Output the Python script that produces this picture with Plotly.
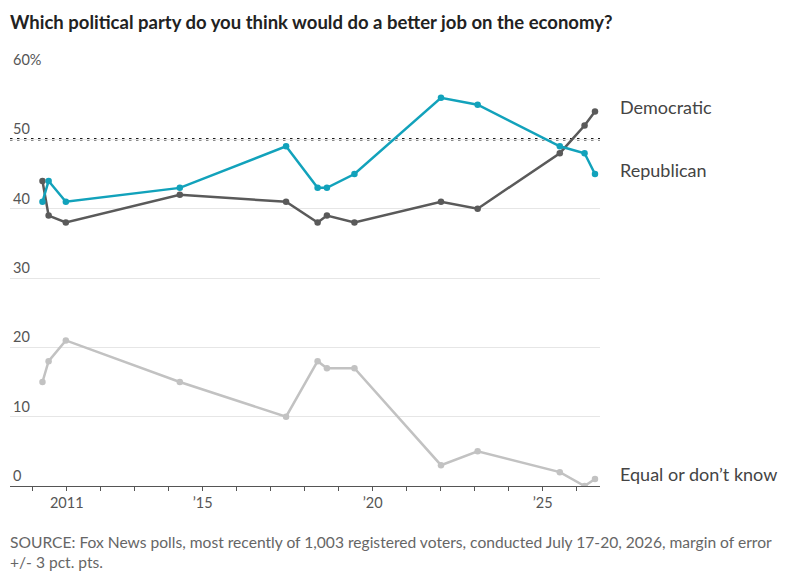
import plotly.graph_objects as go

# poll dates (approximate mid-field dates)
poll_dates = [
    "2010-04-15", "2010-06-20", "2010-12-22", "2014-04-30", "2017-06-15",
    "2018-05-20", "2018-08-28", "2019-06-20", "2022-01-05", "2023-02-03",
    "2025-07-05", "2026-03-28", "2026-07-18",
]
republican = [41, 44, 41, 43, 49, 43, 43, 45, 56, 55, 49, 48, 45]
democratic = [44, 39, 38, 42, 41, 38, 39, 38, 41, 40, 48, 52, 54]
equal_dk = [15, 18, 21, 15, 10, 18, 17, 17, 3, 5, 2, 0, 1]

y_ticks = [0, 10, 20, 30, 40, 50, 60]
y_ticktext = ["0", "10", "20", "30", "40", "50", "60%"]
x_ticks = ["2011-01-01", "2015-01-01", "2020-01-01", "2025-01-01"]
x_ticktext = ["2011", "\u201915", "\u201920", "\u201925"]

FONT = "Lato"
BLUE = "#12a2bb"
DARK = "#5a5a5a"
LIGHT = "#c2c2c2"

fig = go.Figure()

series = [
    ("Equal or don\u2019t know", equal_dk, LIGHT),
    ("Democratic", democratic, DARK),
    ("Republican", republican, BLUE),
]
for name, vals, color in series:
    fig.add_trace(go.Scatter(
        x=poll_dates, y=vals, name=name, mode="lines+markers",
        line=dict(color=color, width=2.5),
        marker=dict(color=color, size=6.5),
        hoverinfo="x+y",
    ))

# 50% reference line
fig.add_shape(
    type="line", xref="paper", x0=0, x1=1, yref="y", y0=50, y1=50,
    line=dict(color="#1a1a1a", width=2.5, dash="2.5px,4.5px"), layer="below",
)

# direct labels on the right (small nudge above the last value)
label_pos = [
    ("Democratic", democratic[-1], 0.7),
    ("Republican", republican[-1], 0.6),
    ("Equal or don\u2019t know", equal_dk[-1], 0.7),
]
for text, yv, dy in label_pos:
    fig.add_annotation(
        text=text, xref="paper", x=1, xanchor="left", xshift=18,
        yref="y", y=yv + dy, yanchor="middle", showarrow=False,
        font=dict(family=FONT, size=18, color="#444444"),
    )

fig.add_annotation(
    text="<b>Which political party do you think would do a better job on the economy?</b>",
    xref="paper", yref="paper", x=0, y=1, xanchor="left", yanchor="middle",
    xshift=-2, yshift=48, showarrow=False,
    font=dict(family=FONT, size=18.5, color="#222222"),
)
fig.add_annotation(
    text="SOURCE: Fox News polls, most recently of 1,003 registered voters, conducted July 17-20, 2026, margin of error<br>+/- 3 pct. pts.",
    xref="paper", yref="paper", x=0, y=0, xanchor="left", yanchor="top",
    xshift=-2, yshift=-45, showarrow=False, align="left",
    font=dict(family=FONT, size=15.6, color="#666666"),
)

# the page body adds an 8px offset, so margins are shifted to compensate
fig.update_layout(
    width=796, height=583,
    margin=dict(l=2, r=204, t=62, b=105),
    paper_bgcolor="white", plot_bgcolor="white",
    showlegend=False,
    font=dict(family=FONT, size=14, color="#555555"),
    xaxis=dict(
        type="date", range=["2009-05-01", "2026-09-10"],
        tickvals=x_ticks, ticktext=x_ticktext,
        showgrid=False, zeroline=False,
        showline=True, linecolor="#555555", linewidth=1,
        ticks="outside", ticklen=4, tickcolor="#555555",
        minor=dict(dtick="M12", ticks="outside", ticklen=4, tickcolor="#555555", showgrid=False),
        tickfont=dict(family=FONT, size=14.5, color="#555555"),
    ),
    yaxis=dict(
        range=[0, 60], tickvals=y_ticks, ticktext=y_ticktext,
        ticklabelposition="inside top", ticklabeloverflow="allow",
        showgrid=True, gridcolor="#e6e6e6", gridwidth=1,
        zeroline=False, showline=False, ticks="",
        tickfont=dict(family=FONT, size=14.5, color="#555555"),
    ),
)

fig.write_html("out.html")
